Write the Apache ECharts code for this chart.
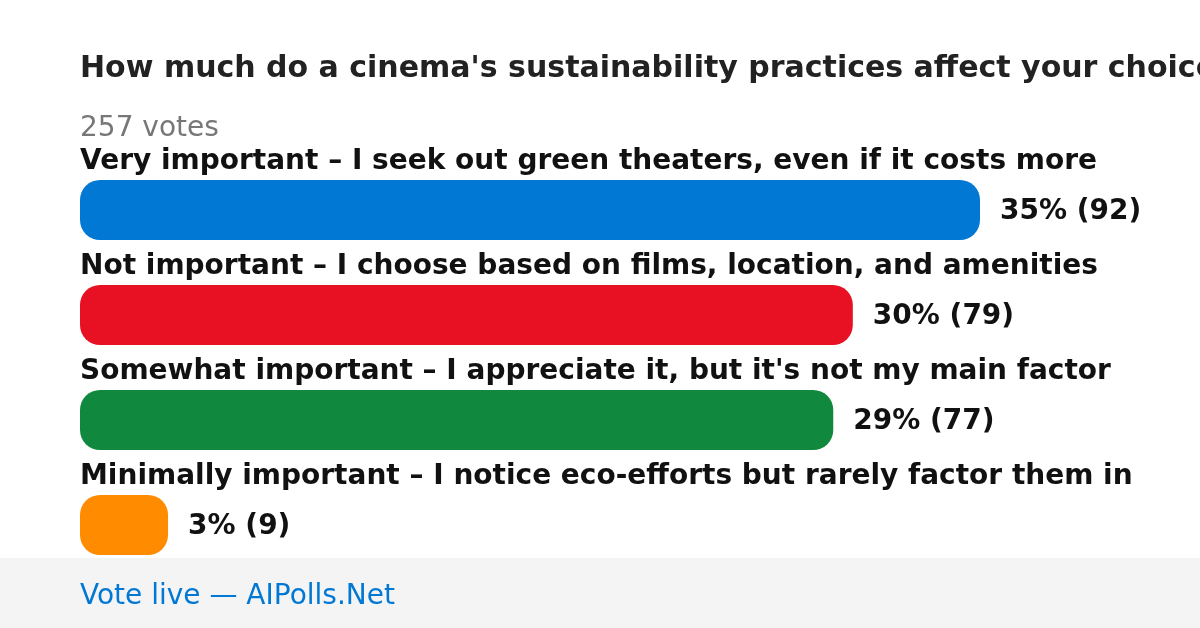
<!DOCTYPE html>
<html>
<head>
<meta charset="utf-8">
<script src="https://cdn.jsdelivr.net/npm/echarts@6/dist/echarts.min.js"></script>
<style>
html,body{margin:0;padding:0;background:#fff;}
#chart{width:1200px;height:628px;}
</style>
</head>
<body>
<div id="chart"></div>
<script>
const titleText = "How much do a cinema's sustainability practices affect your choice of theater?";
const subtitleText = "257 votes";
const footerText = "Vote live — AIPolls.Net";
const categories = [
  "Very important – I seek out green theaters, even if it costs more",
  "Not important – I choose based on films, location, and amenities",
  "Somewhat important – I appreciate it, but it's not my main factor",
  "Minimally important – I notice eco-efforts but rarely factor them in"
];
const votes = [92, 79, 77, 9];
const percents = [35, 30, 29, 3];
const colors = ["#0078d4", "#e81123", "#10893e", "#ff8c00"];

const chart = echarts.init(document.getElementById('chart'), null, {renderer: 'canvas'});
const font = "'DejaVu Sans', sans-serif";
chart.setOption({
  backgroundColor: '#ffffff',
  animation: false,
  title: [
    {text: titleText, left: 80, top: 54, padding: 0, textStyle: {fontFamily: font, fontSize: 30, fontWeight: 'bold', color: '#222222'}},
    {text: subtitleText, left: 80, top: 115, padding: 0, textStyle: {fontFamily: font, fontSize: 28, fontWeight: 'normal', color: '#777777'}},
    {text: footerText, left: 80, top: 583, padding: 0, textStyle: {fontFamily: font, fontSize: 28, fontWeight: 'normal', color: '#0078d4'}, z: 10}
  ],
  graphic: [
    {type: 'rect', left: 0, top: 558, shape: {width: 1200, height: 70}, style: {fill: '#f4f4f4'}, z: -1, silent: true}
  ],
  grid: {left: 80, top: 157.5, width: 900, height: 420, containLabel: false},
  xAxis: {type: 'value', min: 0, max: votes[0], show: false},
  yAxis: {type: 'category', data: categories, inverse: true, show: false},
  series: [
    {
      type: 'bar',
      data: votes.map((v, i) => ({value: v, itemStyle: {color: colors[i]}})),
      barWidth: 60,
      itemStyle: {borderRadius: 20},
      label: {
        show: true, position: 'right', distance: 20, offset: [0, 2],
        fontFamily: font, fontSize: 28, fontWeight: 'bold', color: '#111111',
        formatter: p => percents[p.dataIndex] + '% (' + votes[p.dataIndex] + ')'
      },
      z: 2
    },
    {
      type: 'bar',
      data: votes.map(v => v),
      barWidth: 60,
      barGap: '-100%',
      itemStyle: {color: 'rgba(0,0,0,0)'},
      silent: true,
      label: {
        show: true, position: [0, -4], align: 'left', verticalAlign: 'bottom',
        fontFamily: font, fontSize: 28, fontWeight: 'bold', color: '#111111',
        formatter: p => categories[p.dataIndex]
      },
      z: 3
    }
  ]
});
</script>
</body>
</html>
